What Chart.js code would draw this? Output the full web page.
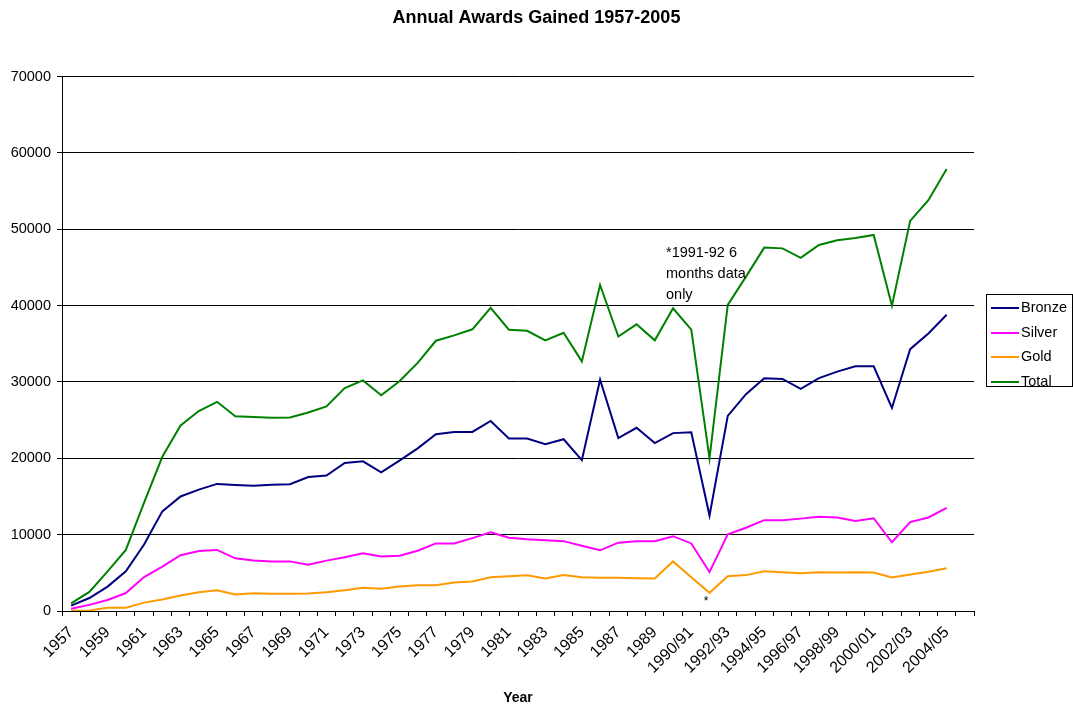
<!DOCTYPE html>
<html><head><meta charset="utf-8">
<script src="https://cdn.jsdelivr.net/npm/chart.js@4/dist/chart.umd.min.js"></script>
<style>html,body{margin:0;padding:0;background:#fff}canvas{display:block}</style>
</head><body>
<canvas id="c" width="1073" height="705"></canvas>
<script>
const categories = [
  "1957","1958","1959","1960","1961","1962","1963","1964","1965","1966",
  "1967","1968","1969","1970","1971","1972","1973","1974","1975","1976",
  "1977","1978","1979","1980","1981","1982","1983","1984","1985","1986",
  "1987","1988","1989","1989/90","1990/91","1991/92","1992/93","1993/94","1994/95","1995/96",
  "1996/97","1997/98","1998/99","1999/00","2000/01","2001/02","2002/03","2003/04","2004/05",""
];
const bronze = [700,1700,3200,5200,8700,13050,15000,15900,16650,16500,
  16400,16550,16600,17550,17750,19400,19600,18150,19700,21300,
  23150,23450,23450,24900,22600,22600,21850,22500,19750,30300,
  22650,24000,22000,23300,23400,12500,25550,28400,30500,30400,
  29100,30500,31350,32050,32050,26600,34300,36350,38800,null];
const silver = [300,800,1450,2350,4450,5800,7300,7850,8000,6900,
  6600,6500,6500,6050,6600,7050,7550,7150,7250,7900,
  8850,8850,9550,10300,9600,9400,9280,9150,8550,7950,
  8950,9150,9150,9800,8850,5100,10050,10900,11900,11900,
  12100,12350,12250,11800,12150,9000,11650,12250,13500,null];
const gold = [30,80,420,420,1100,1500,2030,2470,2730,2160,
  2340,2250,2270,2290,2470,2730,3040,2910,3210,3380,
  3380,3740,3870,4430,4560,4680,4260,4700,4430,4350,
  4350,4300,4260,6490,4430,2380,4560,4700,5220,5090,
  4960,5090,5050,5090,5050,4390,4780,5140,5610,null];
const total = [1000,2500,5200,8000,14200,20200,24300,26200,27400,25500,
  25400,25300,25350,26000,26800,29200,30200,28250,30100,32500,
  35400,36100,36900,39700,36850,36700,35450,36450,32700,42700,
  35950,37550,35450,39650,36850,20000,40100,43800,47600,47500,
  46250,47950,48550,48850,49250,40000,51100,53800,57900,null];
const seriesNames = ["Bronze","Silver","Gold","Total"];
const seriesColors = ["#000080","#FF00FF","#FF9900","#008000"];
const yTicks = [0,10000,20000,30000,40000,50000,60000,70000];
const titleText = "Annual Awards Gained 1957-2005";
const xTitle = "Year";
const noteLines = ["*1991-92 6","months data","only"];

const FONT = "'Liberation Sans', Arial, sans-serif";

const extras = {
  id: 'extras',
  afterDraw(chart) {
    const ctx = chart.ctx;
    ctx.save();
    ctx.fillStyle = '#000';
    ctx.font = '14.5px ' + FONT;
    ctx.textAlign = 'left';
    ctx.textBaseline = 'middle';
    noteLines.forEach((t, i) => ctx.fillText(t, 666, 253 + i * 21));
    ctx.font = '12px ' + FONT;
    ctx.textAlign = 'center';
    ctx.fillText('*', 706, 602);
    ctx.strokeStyle = '#000';
    ctx.lineWidth = 1;
    ctx.strokeRect(986.5, 294.5, 86, 92);
    ctx.font = '14.5px ' + FONT;
    ctx.textAlign = 'left';
    chart.data.datasets.forEach((ds, i) => {
      const y = 308 + i * 24.5;
      ctx.strokeStyle = ds.borderColor;
      ctx.lineWidth = 2;
      ctx.beginPath();
      ctx.moveTo(991, Math.round(y));
      ctx.lineTo(1019, Math.round(y));
      ctx.stroke();
      ctx.fillStyle = '#000';
      ctx.fillText(ds.label, 1021, y);
    });
    ctx.restore();
  }
};

new Chart(document.getElementById('c'), {
  type: 'line',
  data: {
    labels: categories,
    datasets: [bronze, silver, gold, total].map((d, i) => ({
      label: seriesNames[i],
      data: d,
      borderColor: seriesColors[i],
      backgroundColor: seriesColors[i],
      borderWidth: 2,
      pointRadius: 0,
      tension: 0,
      fill: false,
      order: 4 - i
    }))
  },
  options: {
    responsive: false,
    animation: false,
    devicePixelRatio: 1,
    layout: { padding: 0 },
    plugins: {
      legend: { display: false },
      tooltip: { enabled: false },
      title: {
        display: true,
        text: titleText,
        color: '#000',
        font: { family: FONT, size: 18, weight: 'bold', lineHeight: 1.2 },
        padding: { top: 7, bottom: 48 }
      }
    },
    scales: {
      x: {
        type: 'category',
        offset: true,
        afterFit(s) { s.height = 94; },
        grid: { display: true, drawOnChartArea: false, drawTicks: true, tickLength: 5, offset: true, color: '#000', lineWidth: 1 },
        border: { display: true, color: '#000', width: 1 },
        ticks: {
          autoSkip: false,
          maxRotation: 45,
          minRotation: 45,
          padding: 7,
          color: '#000',
          font: { family: FONT, size: 16 },
          callback(v, i) { return i % 2 === 0 ? categories[i] : ''; }
        },
        title: {
          display: true,
          text: xTitle,
          color: '#000',
          font: { family: FONT, size: 14, weight: 'bold', lineHeight: 1 },
          padding: { top: 0, bottom: 0 }
        }
      },
      y: {
        min: 0,
        max: 70000,
        afterFit(s) { s.width = 62; },
        afterBuildTicks(s) { s.ticks = yTicks.map(v => ({ value: v })); },
        grid: { display: true, drawOnChartArea: true, drawTicks: true, tickLength: 5, color: '#000', lineWidth: 1 },
        border: { display: true, color: '#000', width: 1 },
        ticks: {
          padding: 6,
          color: '#000',
          font: { family: FONT, size: 14.5 },
          callback(v) { return String(v); }
        }
      },
      yRight: {
        position: 'right',
        display: true,
        min: 0,
        max: 70000,
        afterFit(s) { s.width = 99; },
        grid: { display: false, drawOnChartArea: false, drawTicks: false },
        border: { display: false },
        ticks: { display: false }
      }
    }
  },
  plugins: [extras]
});
</script>
</body></html>
